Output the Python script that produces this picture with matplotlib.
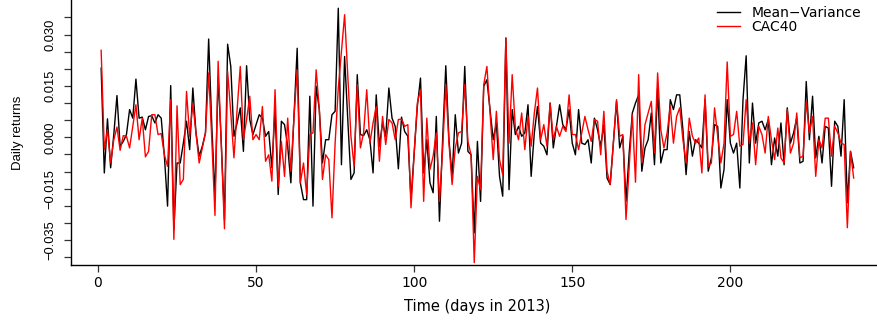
import numpy as np
import matplotlib
matplotlib.use("Agg")
import matplotlib.pyplot as plt

# daily returns (days 1..239 of 2013)
mean_variance = [
    0.0202, -0.0104, 0.0054, -0.0089, 0.0008, 0.0122, -0.0026, -0.0012, 0.0008, 0.0081,
    0.0056, 0.0170, 0.0056, 0.0059, 0.0022, 0.0061, 0.0063, 0.0042, 0.0066, 0.0056,
    -0.0055, -0.0201, 0.0151, -0.0269, -0.0075, -0.0075, -0.0017, 0.0047, -0.0036, 0.0144,
    0.0013, -0.0055, -0.0026, 0.0013, 0.0287, 0.0032, -0.0172, 0.0178, -0.0017, -0.0240,
    0.0272, 0.0207, 0.0003, 0.0042, 0.0086, -0.0041, 0.0209, 0.0052, 0.0008, 0.0037,
    0.0066, 0.0056, 0.0003, 0.0017, -0.0089, 0.0081, -0.0167, 0.0047, 0.0037, -0.0026,
    -0.0133, 0.0061, 0.0260, -0.0133, -0.0182, -0.0182, 0.0120, -0.0201, 0.0149, 0.0081,
    -0.0075, -0.0007, -0.0007, 0.0066, 0.0076, 0.0377, -0.0080, 0.0236, 0.0052, -0.0123,
    -0.0104, 0.0183, 0.0008, 0.0005, 0.0022, -0.0007, -0.0104, 0.0124, -0.0026, 0.0042,
    0.0003, 0.0144, 0.0056, 0.0032, -0.0092, 0.0059, 0.0017, 0.0003, -0.0182, -0.0046,
    0.0090, 0.0173, -0.0104, -0.0007, -0.0133, -0.0162, 0.0061, -0.0245, -0.0007, 0.0209,
    -0.0007, -0.0114, 0.0066, -0.0046, -0.0017, 0.0207, -0.0041, -0.0051, -0.0279, -0.0012,
    -0.0187, 0.0149, 0.0168, 0.0081, -0.0007, 0.0042, -0.0114, -0.0172, 0.0290, -0.0153,
    0.0081, 0.0008, 0.0032, 0.0003, 0.0013, 0.0095, -0.0114, 0.0013, 0.0090, -0.0017,
    -0.0026, -0.0051, 0.0100, -0.0031, 0.0032, 0.0095, 0.0037, 0.0022, 0.0081, -0.0017,
    -0.0051, 0.0081, -0.0017, -0.0021, -0.0007, -0.0075, 0.0056, 0.0022, -0.0026, 0.0037,
    -0.0119, -0.0138, -0.0017, 0.0105, -0.0031, 0.0003, -0.0187, -0.0046, 0.0071, 0.0100,
    0.0124, -0.0099, -0.0031, -0.0007, 0.0071, -0.0080, 0.0144, -0.0075, -0.0036, -0.0036,
    0.0110, 0.0081, 0.0124, 0.0124, 0.0022, -0.0109, 0.0017, -0.0055, -0.0007, -0.0017,
    -0.0031, 0.0110, -0.0099, -0.0060, 0.0037, 0.0032, -0.0148, -0.0094, 0.0110, -0.0017,
    -0.0046, -0.0017, -0.0148, 0.0110, 0.0238, -0.0075, 0.0100, -0.0017, 0.0042, 0.0047,
    0.0022, 0.0052, -0.0080, -0.0002, -0.0055, 0.0042, -0.0080, 0.0086, -0.0017, 0.0013,
    0.0056, -0.0075, -0.0070, 0.0163, -0.0007, 0.0120, -0.0060, 0.0003, -0.0075, 0.0032,
    0.0027, -0.0143, 0.0047, 0.0032, -0.0055, 0.0110, -0.0191, -0.0041, -0.0089,
]

cac40 = [
    0.0254, -0.0036, 0.0022, -0.0075, -0.0007, 0.0030, -0.0038, 0.0005, 0.0003, -0.0031,
    0.0032, 0.0095, -0.0007, 0.0056, -0.0057, -0.0041, 0.0066, 0.0066, 0.0008, 0.0011,
    -0.0051, -0.0085, 0.0110, -0.0298, 0.0092, -0.0138, -0.0123, 0.0134, 0.0003, 0.0098,
    0.0013, -0.0075, -0.0031, 0.0013, 0.0188, -0.0007, -0.0228, 0.0222, -0.0026, -0.0267,
    0.0192, 0.0071, -0.0060, 0.0081, 0.0207, -0.0007, 0.0052, 0.0120, -0.0007, 0.0008,
    -0.0007, 0.0090, -0.0070, -0.0051, -0.0128, 0.0139, -0.0143, -0.0012, -0.0114, 0.0056,
    -0.0099, 0.0061, 0.0197, -0.0133, -0.0075, -0.0167, 0.0008, 0.0013, 0.0197, 0.0081,
    -0.0123, -0.0051, -0.0065, -0.0235, -0.0017, 0.0144, 0.0251, 0.0358, 0.0178, 0.0003,
    -0.0085, 0.0154, -0.0031, 0.0013, 0.0139, -0.0017, 0.0042, 0.0090, -0.0070, 0.0061,
    -0.0021, 0.0052, 0.0042, -0.0007, 0.0052, 0.0053, 0.0032, 0.0037, -0.0206, -0.0046,
    0.0100, 0.0139, -0.0187, 0.0056, -0.0094, -0.0055, 0.0013, -0.0187, -0.0036, 0.0154,
    -0.0017, -0.0138, -0.0031, 0.0013, 0.0017, 0.0154, -0.0012, -0.0051, -0.0366, -0.0114,
    -0.0153, 0.0154, 0.0207, 0.0071, -0.0065, 0.0076, -0.0065, -0.0109, 0.0290, -0.0017,
    0.0183, 0.0027, -0.0007, 0.0071, -0.0036, 0.0061, -0.0026, 0.0071, 0.0144, -0.0007,
    0.0037, -0.0026, 0.0100, -0.0007, 0.0032, 0.0003, 0.0032, 0.0017, 0.0124, 0.0008,
    0.0008, -0.0036, 0.0013, 0.0061, 0.0022, -0.0012, 0.0052, 0.0047, -0.0051, 0.0076,
    -0.0099, -0.0138, -0.0017, 0.0110, 0.0003, 0.0008, -0.0240, -0.0085, 0.0066, -0.0131,
    0.0183, -0.0075, 0.0037, 0.0071, 0.0105, -0.0046, 0.0188, 0.0022, -0.0031, 0.0013,
    0.0090, -0.0017, 0.0061, 0.0086, -0.0007, -0.0075, 0.0056, 0.0003, -0.0017, -0.0002,
    -0.0104, 0.0124, -0.0085, -0.0075, 0.0086, 0.0003, -0.0075, -0.0017, 0.0220, 0.0003,
    0.0008, 0.0076, -0.0026, -0.0021, 0.0110, -0.0017, 0.0042, -0.0080, 0.0032, 0.0008,
    -0.0046, 0.0061, -0.0007, -0.0065, 0.0027, -0.0060, -0.0075, 0.0081, -0.0046, -0.0017,
    0.0071, -0.0060, -0.0055, 0.0105, 0.0013, 0.0061, -0.0114, -0.0007, -0.0031, 0.0056,
    0.0056, -0.0055, 0.0032, 0.0013, -0.0017, -0.0021, -0.0264, -0.0041, -0.0119,
]

days = np.arange(1, len(mean_variance) + 1)

x_ticks = [0, 50, 100, 150, 200]
y_ticks = [-0.035, -0.030, -0.025, -0.020, -0.015, -0.010, -0.005, 0.0,
           0.005, 0.010, 0.015, 0.020, 0.025, 0.030, 0.035]
y_tick_labels = {0.030: "0.030", 0.015: "0.015", 0.0: "0.000",
                 -0.015: "\u22120.015", -0.030: "\u22120.035"}

plt.rcParams["font.family"] = "DejaVu Sans"

fig = plt.figure(figsize=(8.77, 3.24), dpi=100)
ax = fig.add_axes([70.7 / 877, 1 - 264.7 / 324, 813 / 877, 264.7 / 324])

ax.plot(days, mean_variance, color="black", lw=1.0, label="Mean\u2212Variance")
ax.plot(days, cac40, color="red", lw=1.0, label="CAC40")

ax.set_xlim(-8.63, 248.5)
ax.set_ylim(-0.0372, 0.0401)

# R style "L" box
for side in ["top", "right"]:
    ax.spines[side].set_visible(False)
for side in ["left", "bottom"]:
    ax.spines[side].set_linewidth(1.0)

ax.set_xticks(x_ticks)
ax.set_xticklabels([str(t) for t in x_ticks], fontsize=10)
ax.set_yticks(y_ticks)
ax.set_yticklabels([y_tick_labels.get(round(t, 3), "") for t in y_ticks],
                   family="Liberation Sans", fontsize=9.3, rotation=90, va="center")
ax.tick_params(axis="both", direction="out", length=5, width=0.9, color="#333333")
ax.tick_params(axis="x", pad=3)
ax.tick_params(axis="y", pad=5)

ax.set_xlabel("Time (days in 2013)", fontsize=10.5, va="center")
ax.xaxis.set_label_coords(0.5, -(306 - 264.7) / 264.7)
ax.set_ylabel("Daily returns", family="Liberation Sans", fontsize=9.5, va="center")
ax.yaxis.set_label_coords((18 - 70.7) / 813, 0.5)

ax.legend(loc="upper left", bbox_to_anchor=(717 / 877, 1 - 6 / 324),
          bbox_transform=fig.transFigure, frameon=False, fontsize=10,
          borderpad=0, borderaxespad=0, handlelength=1.65, handletextpad=0.85,
          labelspacing=0.0)

fig.savefig("out.png", dpi=100)
